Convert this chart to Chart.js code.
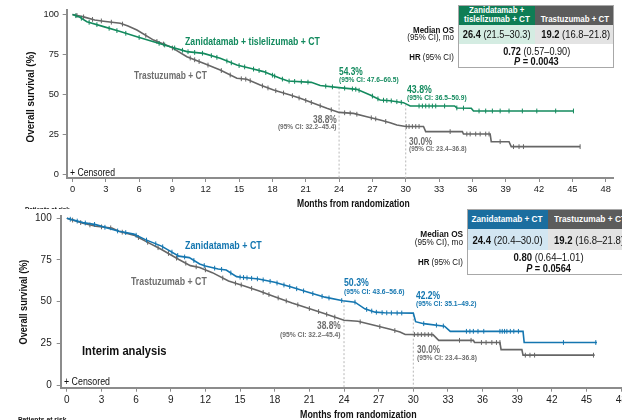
<!DOCTYPE html>
<html>
<head>
<meta charset="utf-8">
<script src="https://cdn.jsdelivr.net/npm/chart.js@4.4.1/dist/chart.umd.min.js"></script>
<style>
  html, body { margin: 0; padding: 0; background: #fff; }
  body { width: 622px; height: 420px; overflow: hidden; position: relative;
         font-family: "Liberation Sans", Arial, sans-serif; }
  .panel { position: absolute; left: 0; width: 622px; overflow: hidden; }
  canvas { position: absolute; left: 0; }
  .lbl { position: absolute; white-space: nowrap; line-height: 1; }
  .cell { position: absolute; box-sizing: border-box; }
</style>
</head>
<body>
<div class="panel" id="topPanel" style="top:0;height:209px">
  <canvas id="topChart" width="622" height="200" style="top:0"></canvas>
</div>
<div class="panel" id="botPanel" style="top:209px;height:211px">
  <canvas id="botChart" width="680" height="210" style="top:-4px"></canvas>
</div>
<script>
// axis ticks
const monthTicks = [0, 3, 6, 9, 12, 15, 18, 21, 24, 27, 30, 33, 36, 39, 42, 45, 48];
const survTicks = [0, 25, 50, 75, 100];
const landmarkMonths = [24, 30];

// --- top panel: zanidatamab + tislelizumab + CT vs trastuzumab + CT ---
const ztMonths = [0, 0.6, 1.3, 2.8, 4.3, 5.8, 7.3, 8.8, 10.3, 11.8, 13.3, 14.8, 16.0, 17.2, 18.7, 19.4, 21.5, 22.3, 24.0, 25.6, 26.8, 27.7, 28.6, 29.8, 30.4, 34.4, 34.6, 35.9, 36.1, 45.1];
const ztSurv   = [100, 98.5, 95.5, 92.4, 89.3, 86.1, 83.0, 79.9, 76.8, 75.7, 72.6, 68.4, 66.4, 64.3, 60.1, 58.4, 57.6, 55.6, 54.3, 53.2, 49.7, 46.6, 46.1, 44.9, 42.8, 42.8, 41.6, 41.4, 39.7, 39.7];
const ztCensored = [0.3, 0.8, 1.5, 2.2, 3.3, 4.0, 4.8, 6.0, 7.8, 8.3, 9.2, 9.9, 10.4, 11.0, 11.7, 12.5, 13.0, 13.9, 14.3, 15.0, 15.5, 16.3, 16.8, 17.4, 18.0, 18.2, 18.9, 19.5, 20.0, 20.6, 21.2, 22.8, 23.4, 24.5, 25.2, 25.5, 25.8, 27.0, 27.5, 28.0, 28.3, 28.7, 29.2, 29.6,
  31.2, 31.5, 31.8, 32.1, 32.4, 32.7, 33.5, 34.6, 35.2, 36.6, 37.2, 37.8, 38.5, 39.3, 40.5, 41.8, 43.5, 45.1];

const trTopMonths = [0, 1.0, 2.0, 2.8, 4.3, 5.0, 5.8, 7.3, 8.8, 10.3, 11.8, 13.3, 14.8, 15.7, 16.9, 18.1, 19.6, 20.5, 21.7, 22.9, 24.0, 25.3, 26.5, 27.7, 28.6, 29.2, 30.0, 31.6, 31.8, 35.1, 35.2, 37.6, 37.7, 39.3, 39.5, 45.7];
const trTopSurv   = [100, 98.5, 96.5, 95.8, 94.5, 92.8, 90.3, 84.0, 79.9, 73.6, 69.5, 65.3, 60.1, 59.5, 55.9, 52.8, 49.7, 47.6, 44.5, 41.4, 38.8, 38.2, 36.1, 34.1, 32.4, 30.9, 30.0, 30.0, 26.8, 26.8, 25.3, 25.3, 20.5, 20.5, 17.4, 17.4];
const trTopCensored = [0.4, 1.0, 1.8, 2.6, 3.5, 4.5, 6.6, 7.6, 8.2, 9.0, 10.6, 11.0, 11.4, 12.2, 13.4, 14.2, 15.2, 15.6, 16.0, 17.1, 17.6, 18.3, 19.0, 19.8, 20.4, 21.0, 21.5, 22.3, 23.3, 24.5, 25.0, 25.6, 26.9, 27.3, 28.2,
  30.05, 30.3, 30.6, 30.9, 31.2, 34.0, 35.5, 35.8, 36.3, 36.7, 37.2, 37.5, 38.5, 39.7, 40.2, 40.6, 45.7];

const ztLandmark = [54.3, 43.8];
const ztLandmarkCI = ['47.6–60.5', '36.5–50.9'];
const trTopLandmark = [38.8, 30.0];
const trTopLandmarkCI = ['32.2–45.4', '23.4–36.8'];

// --- bottom panel (interim analysis): zanidatamab + CT vs trastuzumab + CT ---
const zMonths = [0, 1.4, 2.5, 4.5, 5.8, 6.8, 8.2, 9.7, 10.6, 11.5, 12.0, 13.1, 13.8, 14.7, 15.1, 16.6, 18.0, 19.5, 20.9, 22.35, 23.9, 24.95, 25.8, 26.7, 27.5, 30.0, 30.2, 30.9, 32.7, 33.2, 39.5, 39.6, 45.9];
const zSurv   = [100, 97.4, 96.2, 92.2, 90.5, 87.2, 83.3, 77.3, 76.4, 72.6, 71.4, 69.6, 69.0, 65.0, 64.6, 63.6, 61.6, 58.6, 55.6, 52.7, 50.5, 49.7, 45.7, 43.7, 43.3, 43.1, 38.0, 36.8, 35.3, 32.2, 32.2, 25.5, 25.5];
const zCensored = [0.3, 0.9, 1.6, 2.4, 3.3, 4.4, 5.1, 6.0, 6.9, 7.7, 8.3, 9.1, 9.6, 10.2, 11.0, 11.9, 12.8, 13.4, 14.2, 15.0, 15.3, 15.6, 16.0, 16.5, 17.0, 17.6, 18.2, 18.8, 19.3, 19.9, 20.5, 21.3, 22.1, 22.7,
  23.8, 24.95, 25.96, 26.4, 26.8, 27.3, 27.7, 28.1, 28.6, 29.0, 30.9, 32.0, 32.6, 34.6, 34.9, 35.2, 35.6, 36.1, 37.5, 37.7, 37.9, 38.1, 38.4, 38.7, 39.1, 43.0, 45.8];

const trBotMonths = [0, 1.4, 2.5, 3.9, 4.5, 5.8, 6.8, 8.2, 9.7, 10.7, 11.5, 12.6, 14.0, 15.3, 16.6, 18.0, 19.5, 20.9, 22.35, 24.0, 25.2, 26.7, 28.0, 28.85, 29.3, 31.7, 32.2, 35.2, 35.3, 37.5, 37.6, 39.4, 39.5, 45.7];
const trBotSurv   = [100, 97, 95.2, 94.2, 92.2, 89.9, 86.3, 81.3, 75.3, 71.6, 70.5, 67.4, 62.4, 59.6, 56.6, 53.0, 49.2, 46.1, 42.8, 38.8, 38.2, 35.7, 33.4, 31.8, 30.3, 30.2, 26.8, 26.8, 25.5, 25.5, 21.2, 21.2, 17.9, 17.9];
const trBotCensored = [0.5, 1.2, 2.0, 3.0, 3.8, 4.8, 6.2, 7.0, 7.9, 8.8, 9.5, 10.3, 11.2, 12.0, 13.5, 14.6, 15.1, 16.0, 17.0, 17.5, 18.3, 19.0, 20.0, 21.0, 21.8, 22.5, 23.2,
  25.4, 27.1, 28.4, 30.1, 30.4, 30.7, 31.0, 31.3, 31.6, 34.0, 35.0, 35.9, 36.3, 36.8, 37.2, 37.5, 39.7, 40.1, 40.5, 45.6];

const zLandmark = [50.3, 42.2];
const zLandmarkCI = ['43.6–56.6', '35.1–49.2'];
const trBotLandmark = [38.8, 30.0];
const trBotLandmarkCI = ['32.2–45.4', '23.4–36.8'];

const GREEN = '#138a5e';
const BLUE = '#1476b0';
const GREY = '#666666';
const GREY_TXT = '#6e6e6e';
const FONT = '"Liberation Sans", Arial, sans-serif';

// position of a censor tick on the drawn curve
function onCurve(ts, vs, t) {
  for (let i = 1; i < ts.length; i++) {
    if (t <= ts[i]) {
      const f = (t - ts[i - 1]) / (ts[i] - ts[i - 1]);
      return vs[i - 1] + f * (vs[i] - vs[i - 1]);
    }
  }
  return vs[vs.length - 1];
}

function buildChart(id, p) {
  const axisColor = '#8c8c8c';
  const datasets = [];
  landmarkMonths.forEach((m, i) => {
    datasets.push({
      data: [{ x: m, y: p.landmarkTop[i] }, { x: m, y: p.yMin }],
      borderColor: '#b8b8b8', borderWidth: 1, borderDash: [2, 2],
      pointRadius: 0, order: 5
    });
  });
  p.curves.forEach(c => {
    datasets.push({
      data: c.t.map((t, i) => ({ x: t, y: c.v[i] })),
      borderColor: c.color, borderWidth: 1.6, pointRadius: 0, order: c.order
    });
    datasets.push({
      data: c.cens.map(t => ({ x: t, y: onCurve(c.t, c.v, t) })),
      showLine: false, pointStyle: 'line', pointRotation: 90, pointRadius: 2.4,
      pointBorderColor: c.color, pointBorderWidth: 1, order: c.order
    });
  });

  return new Chart(document.getElementById(id), {
    type: 'line',
    data: { datasets: datasets },
    options: {
      responsive: false,
      animation: false,
      events: [],
      layout: { padding: { left: 0, top: p.padTop, right: p.padRight, bottom: 0 } },
      plugins: { legend: { display: false }, tooltip: { enabled: false } },
      scales: {
        x: {
          type: 'linear', min: p.xMin, max: p.xMax,
          afterBuildTicks: s => { s.ticks = monthTicks.map(v => ({ value: v })); },
          afterFit: s => { s.height = p.xAxisH; },
          grid: { drawOnChartArea: false, drawTicks: true, tickLength: 4, color: axisColor, lineWidth: 1 },
          border: { color: axisColor, width: 2 },
          ticks: { font: { family: FONT, size: p.tickSize }, color: '#222', padding: p.xPad,
                   maxRotation: 0, autoSkip: false, callback: v => String(v) }
        },
        y: {
          type: 'linear', min: p.yMin, max: p.yMax,
          afterBuildTicks: s => { s.ticks = survTicks.map(v => ({ value: v })); },
          afterFit: s => { s.width = p.yAxisW; },
          grid: { drawOnChartArea: false, drawTicks: true, tickLength: 4, color: axisColor, lineWidth: 1 },
          border: { color: axisColor, width: 2 },
          ticks: { font: { family: FONT, size: p.tickSize }, color: '#222', padding: p.yPad,
                   callback: v => String(v) }
        }
      }
    }
  });
}

buildChart('topChart', {
  xMin: -0.52, xMax: 48.66, yMin: -2.19, yMax: 102.8,
  padTop: 10, padRight: 9, xAxisH: 22, yAxisW: 66.7, tickSize: 9.3, xPad: 2, yPad: 3.7,
  landmarkTop: ztLandmark,
  curves: [
    { t: ztMonths, v: ztSurv, cens: ztCensored, color: GREEN, order: 1 },
    { t: trTopMonths, v: trTopSurv, cens: trTopCensored, color: GREY, order: 2 }
  ]
});

buildChart('botChart', {
  xMin: -0.53, xMax: 50, yMin: -1.61, yMax: 101.37,
  padTop: 10, padRight: 35.7, xAxisH: 27.3, yAxisW: 60.7, tickSize: 10, xPad: 2.3, yPad: 5,
  landmarkTop: zLandmark,
  curves: [
    { t: zMonths, v: zSurv, cens: zCensored, color: BLUE, order: 1 },
    { t: trBotMonths, v: trBotSurv, cens: trBotCensored, color: GREY, order: 2 }
  ]
});

// ---- text and tables (page pixel coordinates) ----
const topPanel = document.getElementById('topPanel');
const botPanel = document.getElementById('botPanel');

function addText(panel, offY, s) {
  const el = document.createElement('div');
  el.className = 'lbl';
  el.innerHTML = s.html;
  el.style.fontSize = (s.size || 10) + 'px';
  el.style.fontWeight = s.bold ? 'bold' : 'normal';
  el.style.color = s.color || '#111';
  panel.appendChild(el);
  const w = el.offsetWidth, h = el.offsetHeight;
  const k = s.w ? s.w / w : 1;
  const align = s.align || 'left';
  let left = s.x;
  if (align === 'center') left = s.x - w / 2;
  if (align === 'right') left = s.x - w;
  el.style.left = left + 'px';
  el.style.top = (s.y - offY - h / 2) + 'px';
  el.style.transformOrigin = align + ' center';
  el.style.transform = (s.rot ? 'rotate(-90deg) ' : '') + 'scaleX(' + k + ')';
}

function addCell(panel, offY, c) {
  const el = document.createElement('div');
  el.className = 'cell';
  el.style.left = c.x + 'px';
  el.style.top = (c.y - offY) + 'px';
  el.style.width = c.w + 'px';
  el.style.height = c.h + 'px';
  if (c.bg) el.style.background = c.bg;
  if (c.border) el.style.border = c.border;
  panel.appendChild(el);
}

const pct = v => v.toFixed(1) + '%';
const ci = s => '(95% CI: ' + s + ')';

// top panel cells
[
  { x: 458, y: 5, w: 77, h: 20, bg: '#0e7d55' },
  { x: 535, y: 5, w: 79, h: 20, bg: '#5c5c5c' },
  { x: 458, y: 25, w: 77, h: 18.5, bg: '#d4ece2' },
  { x: 535, y: 25, w: 79, h: 18.5, bg: '#e3e3e3' },
  { x: 458, y: 5, w: 156, h: 63, border: '1px solid #a8a8a8' }
].forEach(c => addCell(topPanel, 0, c));

[
  { html: 'Zanidatamab + tislelizumab + CT', x: 185, y: 41, w: 135, size: 10.5, bold: true, color: GREEN },
  { html: 'Trastuzumab + CT', x: 134, y: 75, w: 73, size: 10.5, bold: true, color: GREY_TXT },
  { html: pct(ztLandmark[0]), x: 339, y: 71, w: 24, size: 10.5, bold: true, color: GREEN },
  { html: ci(ztLandmarkCI[0]), x: 339, y: 80, w: 60, size: 7.5, bold: true, color: GREEN },
  { html: pct(ztLandmark[1]), x: 407, y: 89, w: 25, size: 10.5, bold: true, color: GREEN },
  { html: ci(ztLandmarkCI[1]), x: 407, y: 98, w: 60, size: 7.5, bold: true, color: GREEN },
  { html: pct(trTopLandmark[0]), x: 337, y: 119, w: 24, size: 10.5, bold: true, color: GREY_TXT, align: 'right' },
  { html: ci(trTopLandmarkCI[0]), x: 337, y: 127, w: 59, size: 7.5, bold: true, color: GREY_TXT, align: 'right' },
  { html: pct(trTopLandmark[1]), x: 409, y: 141, w: 23.5, size: 10.5, bold: true, color: GREY_TXT },
  { html: ci(trTopLandmarkCI[1]), x: 409, y: 149, w: 58, size: 7.5, bold: true, color: GREY_TXT },
  { html: '+ Censored', x: 70, y: 173, w: 45, size: 10 },
  { html: 'Months from randomization', x: 297, y: 204, w: 113, size: 10, bold: true },
  { html: 'Overall survival (%)', x: 31.5, y: 97, w: 91, size: 10, bold: true, align: 'center', rot: true },
  { html: 'Patients at risk', x: 25, y: 209, w: 45, size: 7, bold: true },
  // table
  { html: 'Zanidatamab +', x: 496.5, y: 10, w: 55, size: 9, bold: true, color: '#fff', align: 'center' },
  { html: 'tislelizumab + CT', x: 496.5, y: 19.3, w: 66, size: 9, bold: true, color: '#fff', align: 'center' },
  { html: 'Trastuzumab + CT', x: 575, y: 19.5, w: 68.6, size: 9, bold: true, color: '#fff', align: 'center' },
  { html: 'Median OS', x: 454, y: 29.5, w: 41, size: 9.5, bold: true, align: 'right' },
  { html: '(95% CI), mo', x: 454, y: 37, w: 46.7, size: 9.5, align: 'right' },
  { html: 'HR <span style="font-weight:normal">(95% CI)</span>', x: 454, y: 56.7, w: 44.7, size: 9.5, bold: true, align: 'right' },
  { html: '<b>26.4</b> (21.5–30.3)', x: 496.5, y: 35, w: 67.3, size: 10, align: 'center' },
  { html: '<b>19.2</b> (16.8–21.8)', x: 575, y: 35, w: 68.6, size: 10, align: 'center' },
  { html: '<b>0.72</b> (0.57–0.90)', x: 536, y: 52.3, w: 66.7, size: 10, align: 'center' },
  { html: '<i>P</i> = 0.0043', x: 536, y: 61.7, w: 45, size: 10, bold: true, align: 'center' }
].forEach(s => addText(topPanel, 0, s));

// bottom panel cells
[
  { x: 466.7, y: 209, w: 81.3, h: 20, bg: '#1b6e9f' },
  { x: 548, y: 209, w: 90, h: 20, bg: '#5c5c5c' },
  { x: 466.7, y: 229, w: 81.3, h: 21, bg: '#d2e6f2' },
  { x: 548, y: 229, w: 90, h: 21, bg: '#e3e3e3' },
  { x: 466.7, y: 209, w: 171.3, h: 66, border: '1px solid #a8a8a8' }
].forEach(c => addCell(botPanel, 209, c));

[
  { html: 'Zanidatamab + CT', x: 185, y: 245, w: 77, size: 10.5, bold: true, color: BLUE },
  { html: 'Trastuzumab + CT', x: 130.7, y: 281.7, w: 76, size: 10.5, bold: true, color: GREY_TXT },
  { html: 'Interim analysis', x: 81.7, y: 351.7, w: 85, size: 12.5, bold: true },
  { html: pct(zLandmark[0]), x: 344, y: 282.7, w: 25, size: 10.5, bold: true, color: BLUE },
  { html: ci(zLandmarkCI[0]), x: 344, y: 291.7, w: 61, size: 7.5, bold: true, color: BLUE },
  { html: pct(zLandmark[1]), x: 415.7, y: 295, w: 24.3, size: 10.5, bold: true, color: BLUE },
  { html: ci(zLandmarkCI[1]), x: 415.7, y: 304.3, w: 61, size: 7.5, bold: true, color: BLUE },
  { html: pct(trBotLandmark[0]), x: 340.7, y: 325.7, w: 24, size: 10.5, bold: true, color: GREY_TXT, align: 'right' },
  { html: ci(trBotLandmarkCI[0]), x: 341, y: 335, w: 61, size: 7.5, bold: true, color: GREY_TXT, align: 'right' },
  { html: pct(trBotLandmark[1]), x: 416.7, y: 349, w: 23.3, size: 10.5, bold: true, color: GREY_TXT },
  { html: ci(trBotLandmarkCI[1]), x: 416.7, y: 358.3, w: 60.3, size: 7.5, bold: true, color: GREY_TXT },
  { html: '+ Censored', x: 64, y: 382, w: 46, size: 10 },
  { html: 'Months from randomization', x: 300, y: 415, w: 117, size: 10, bold: true },
  { html: 'Overall survival (%)', x: 24.5, y: 302, w: 85, size: 10, bold: true, align: 'center', rot: true },
  { html: 'Patients at risk', x: 18, y: 419, w: 48.7, size: 7, bold: true },
  // table
  { html: 'Zanidatamab + CT', x: 507.3, y: 219, w: 71, size: 9.5, bold: true, color: '#fff', align: 'center' },
  { html: 'Trastuzumab + CT', x: 554, y: 219, w: 72, size: 9.5, bold: true, color: '#fff' },
  { html: 'Median OS', x: 463, y: 234, w: 42.7, size: 9.5, bold: true, align: 'right' },
  { html: '(95% CI), mo', x: 463, y: 241.5, w: 48.3, size: 9.5, align: 'right' },
  { html: 'HR <span style="font-weight:normal">(95% CI)</span>', x: 463, y: 262, w: 45, size: 9.5, bold: true, align: 'right' },
  { html: '<b>24.4</b> (20.4–30.0)', x: 507, y: 240, w: 70, size: 10.5, align: 'center' },
  { html: '<b>19.2</b> (16.8–21.8)', x: 554.3, y: 240, w: 70, size: 10.5 },
  { html: '<b>0.80</b> (0.64–1.01)', x: 548, y: 257.7, w: 70, size: 10.5, align: 'center' },
  { html: '<i>P</i> = 0.0564', x: 548.3, y: 268, w: 44.7, size: 10.5, bold: true, align: 'center' }
].forEach(s => addText(botPanel, 209, s));
</script>
</body>
</html>
